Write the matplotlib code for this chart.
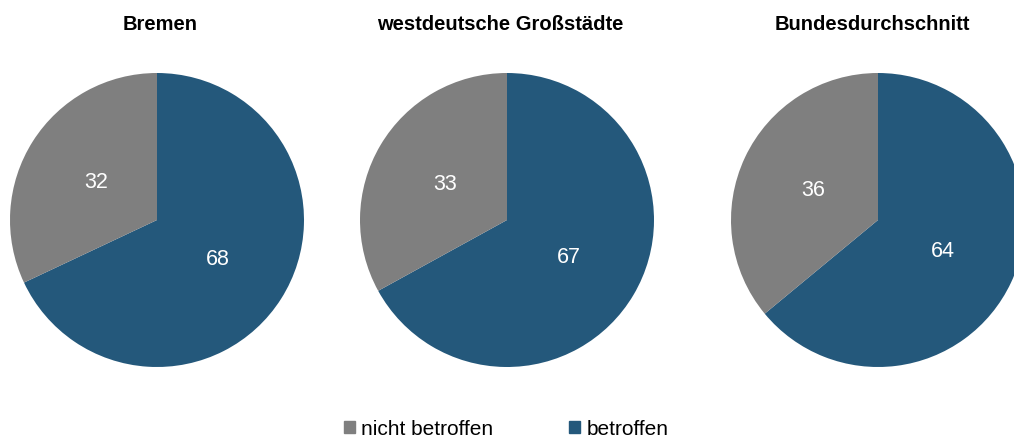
import matplotlib
matplotlib.use("Agg")
import matplotlib.pyplot as plt
from matplotlib.patches import Patch

plt.rcParams['font.family'] = ['Liberation Sans', 'DejaVu Sans']

titles = ["Bremen", "westdeutsche Großstädte", "Bundesdurchschnitt"]
categories = ["betroffen", "nicht betroffen"]
betroffen = [68, 67, 64]
nicht_betroffen = [32, 33, 36]
colors = {"betroffen": "#24587B", "nicht betroffen": "#7F7F7F"}

W, H = 1014, 439
fig = plt.figure(figsize=(W / 100, H / 100), dpi=100)

centers_x = [157, 507, 878]
cy = 221
r = 147
title_x = [160, 500, 872]

for i in range(3):
    cx = centers_x[i]
    ax = fig.add_axes([(cx - r) / W, (H - cy - r) / H, 2 * r / W, 2 * r / H])
    vals = [betroffen[i], nicht_betroffen[i]]
    wedges, texts = ax.pie(vals, colors=[colors[c] for c in categories],
                           startangle=90, counterclock=False, radius=1,
                           labels=[str(v) for v in vals], labeldistance=0.49,
                           textprops=dict(color="white", fontsize=15.5, ha="center", va="center"),
                           wedgeprops=dict(linewidth=0))
    ax.set_xlim(-1, 1)
    ax.set_ylim(-1, 1)
    ax.set_aspect("auto")
    ax.axis("off")
    fig.text(title_x[i] / W, 1 - 24 / H, titles[i], ha="center", va="center",
             fontsize=14.5, fontweight="bold", color="black")

handles = [Patch(color=colors["nicht betroffen"]), Patch(color=colors["betroffen"])]
fig.legend(handles, ["nicht betroffen", "betroffen"], loc="center",
           bbox_to_anchor=(506 / W, 1 - 430 / H), ncol=2, frameon=False,
           fontsize=15, handlelength=0.55, handleheight=0.55, handletextpad=0.3,
           columnspacing=3.6, borderpad=0)

fig.savefig("out.png", dpi=100)
